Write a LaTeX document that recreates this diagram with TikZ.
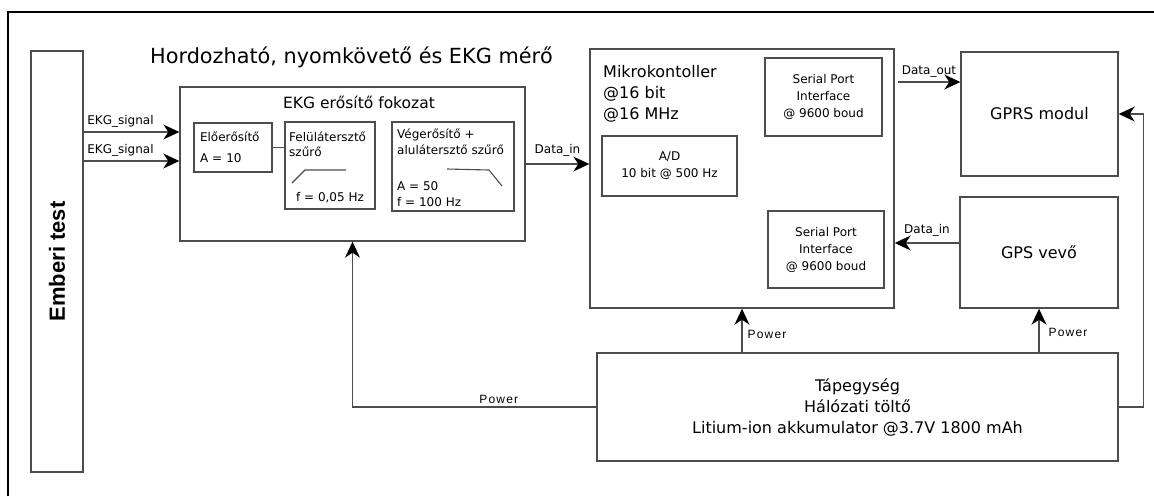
\documentclass[tikz,border=0pt]{standalone}
\usepackage{fontspec}
\setmainfont{DejaVu Sans}
\newfontfamily\arialfont{Liberation Sans}
\newfontfamily\powerfont[LetterSpace=10]{Liberation Sans}
\usetikzlibrary{arrows.meta, positioning, calc}
\definecolor{cvonal}{HTML}{4d4d4d}
\tikzset{
  blokk/.style={rectangle, draw=cvonal, line width=1.4pt, inner sep=0pt, align=center,
                font=\fontsize{16}{21}\selectfont},
  kisblokk/.style={blokk, font=\fontsize{12}{17}\selectfont},
  kisszoveg/.style={inner sep=0pt, font=\fontsize{12}{16}\selectfont},
  felirat/.style={inner sep=1pt, font=\fontsize{12}{15}\selectfont},
  tapfelirat/.style={inner sep=1pt, font=\powerfont\fontsize{12}{15}\selectfont},
  nyil/.style={-{Stealth[length=16pt, width=15pt, inset=5pt, color=black]}, line width=1.3pt, draw=cvonal},
  vonal/.style={line width=1.3pt, draw=cvonal},
}

\begin{document}
\begin{tikzpicture}[x=1pt, y=-1pt]
        \useasboundingbox (0,0) rectangle (1154,496);
        \draw[line width=1.5pt] (8,496) -- (8,12) -- (1154,12);

        % bal oldal
        \node[blokk, minimum width=52, minimum height=421,
              label={[rotate=90, font=\arialfont\bfseries\fontsize{22}{26}\selectfont]center:Emberi test}] (test) at (57,261.5) {};
        \node[font=\fontsize{20.8}{24}\selectfont] (cim) at (351.5,57) {Hordozható, nyomkövető és EKG mérő};

        % EKG erosito
        \node[blokk, minimum width=345, minimum height=154] (ekg) at (352.5,164) {};
        \node[font=\fontsize{15.5}{18}\selectfont] (ekgcim) at (359,102) {EKG erősítő fokozat};
        \node[kisblokk, minimum width=78, minimum height=49, text width=66, align=left,
              font=\fontsize{12}{21}\selectfont] (elo) at (233,147.5) {Előerősítő\\A = 10};
        \node[kisblokk, minimum width=90, minimum height=87] (felul) at (330,165.5) {};
        \node[kisblokk, minimum width=122, minimum height=89] (veg) at (453,166.5) {};
        \node[kisszoveg, anchor=west, align=left, font=\fontsize{12}{15}\selectfont] (felultxt) at (289,144.5) {Felülátersztő\\szűrő};
        \node[kisszoveg] (felulf) at (330,198) {f = 0,05 Hz};
        \node[kisszoveg, anchor=west, align=left] (vegtxt) at (397,142) {Végerősítő +\\alulátersztő szűrő};
        \node[kisszoveg, anchor=west, align=left] (vegf) at (397,194) {A = 50\\f = 100 Hz};
        \draw[vonal, line width=1.1pt] (292,183) -- (305,170) -- (346,170);
        \draw[vonal, line width=1.1pt] (447,169) -- (489,170) -- (502,186);
        \draw[vonal] (elo.east) -- (elo.east -| felul.west);

        % mikrokontroller
        \node[blokk, minimum width=304, minimum height=259] (mikro) at (742,178.5) {};
        \node[anchor=west, align=left, inner sep=0pt, font=\fontsize{16}{21}\selectfont] (mikrotxt) at (603,94)
              {Mikrokontoller\\@16 bit\\@16 MHz};
        \node[kisblokk, minimum width=135, minimum height=60] (ad) at (669.5,166) {A/D\\10 bit @ 500 Hz};
        \node[kisblokk, minimum width=117, minimum height=78] (spi1) at (823.5,97) {Serial Port\\Interface\\@ 9600 boud};
        \node[kisblokk, minimum width=116, minimum height=77] (spi2) at (826,249.5) {Serial Port\\Interface\\@ 9600 boud};

        % jobb oldal
        \node[blokk, minimum width=157, minimum height=124] (gprs) at (1039.5,114) {GPRS modul};
        \node[blokk, minimum width=158, minimum height=111] (gps) at (1039,252.5) {GPS vevő};
        \node[blokk, minimum width=521, minimum height=108] (tap) at (857.5,407)
              {Tápegység\\Hálózati töltő\\Litium-ion akkumulator @3.7V 1800 mAh};

        % jelek
        \draw[nyil] (test.east |- 0,132) -- node[felirat, pos=0, above right=3pt and 2pt] {EKG\_signal} (ekg.west |- 0,132);
        \draw[nyil] (test.east |- 0,161) -- node[felirat, pos=0, above right=3pt and 2pt] {EKG\_signal} (ekg.west |- 0,161);
        \draw[nyil] (ekg.east) -- node[felirat, above=6pt] {Data\_in} (ekg.east -| mikro.west);
        \draw[nyil] (mikro.east |- 0,82) ++(3,0) -- node[felirat, above=3pt] {Data\_out} (gprs.west |- 0,82);
        \draw[nyil] (gps.west |- 0,243) -- node[felirat, above=5pt] {Data\_in} (mikro.east |- 0,243);

        % tapellatas
        \draw[nyil] (tap.west) -| node[tapfelirat, pos=0.2, above=2pt] {Power} (ekg.south);
        \draw[nyil] (tap.north -| mikro.south) -- node[tapfelirat, pos=0.4, right=4pt] {Power} (mikro.south);
        \draw[nyil] (tap.north -| gps.south) -- node[tapfelirat, pos=0.45, right=8pt] {Power} (gps.south);
        \draw[nyil] (tap.east) -- ++(25,0) |- (gprs.east);
\end{tikzpicture}
\end{document}
